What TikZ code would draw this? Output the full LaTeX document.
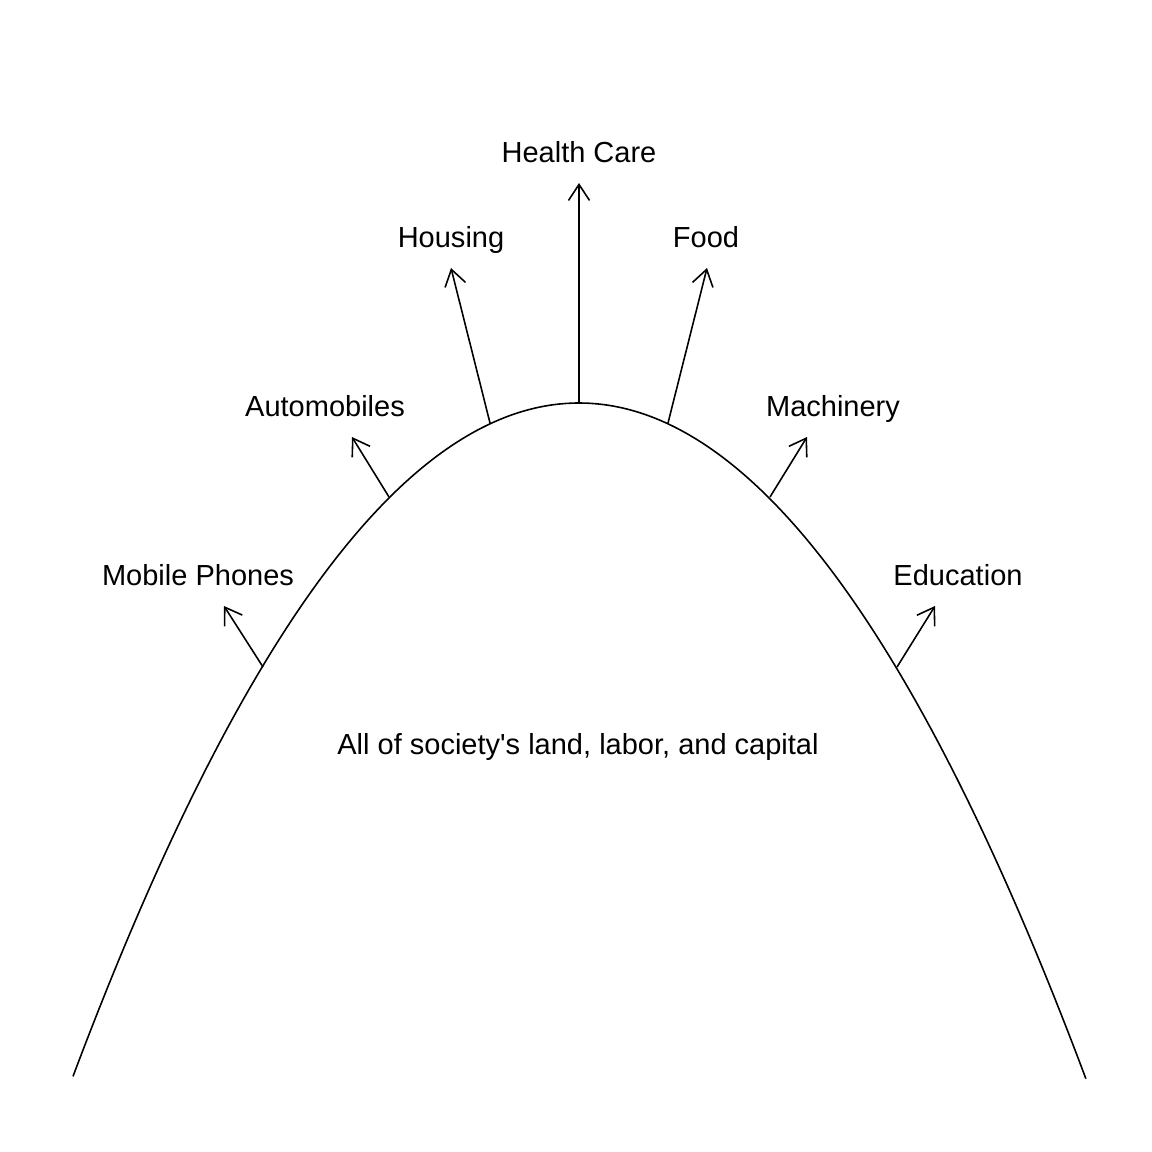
\documentclass[tikz,border=0pt]{standalone}
\usepackage{fontspec}
\setmainfont{Liberation Sans}
\usetikzlibrary{arrows.meta}
\begin{document}
\begin{tikzpicture}[x=0.01cm,y=-0.01cm,line width=0.45pt,
  good/.style={font=\fontsize{8.25}{10}\selectfont,inner sep=0pt,text height=0.86em,text depth=0.21em},
  growarrow/.style={-{Straight Barb[length=1.6mm,width=2.1mm]}}]
  \useasboundingbox (0,0) rectangle (1152,1152);

  % frontier
  \draw plot[domain=-5.06:5.07,samples=120,smooth] ({579+100*\x},{403+26.3*\x*\x});

  \coordinate (b1) at (263,667);
  \coordinate (b2) at (389,497);
  \coordinate (b3) at (490,423);
  \coordinate (b4) at (579,403);
  \coordinate (b5) at (668,423);
  \coordinate (b6) at (770,497);
  \coordinate (b7) at (897,667);

  \coordinate (t1) at (224,606);
  \coordinate (t2) at (352,437);
  \coordinate (t3) at (451,268);
  \coordinate (t4) at (579,183);
  \coordinate (t5) at (707,268);
  \coordinate (t6) at (807,437);
  \coordinate (t7) at (935,606);

  \node[good] (phones) at (198,574) {Mobile Phones};
  \node[good] (autos) at (325,405) {Automobiles};
  \node[good] (housing) at (451,236) {Housing};
  \node[good] (health) at (579,151) {Health Care};
  \node[good] (food) at (706,236) {Food};
  \node[good] (machinery) at (833,405) {Machinery};
  \node[good] (education) at (958,574) {Education};
  \node[good] (resources) at (578,743) {All of society\textquotesingle s land, labor, and capital};

  \path[growarrow]
   (b1) edge (t1)
   (b2) edge (t2)
   (b3) edge (t3)
   (b4) edge (t4)
   (b5) edge (t5)
   (b6) edge (t6)
   (b7) edge (t7);
\end{tikzpicture}
\end{document}
